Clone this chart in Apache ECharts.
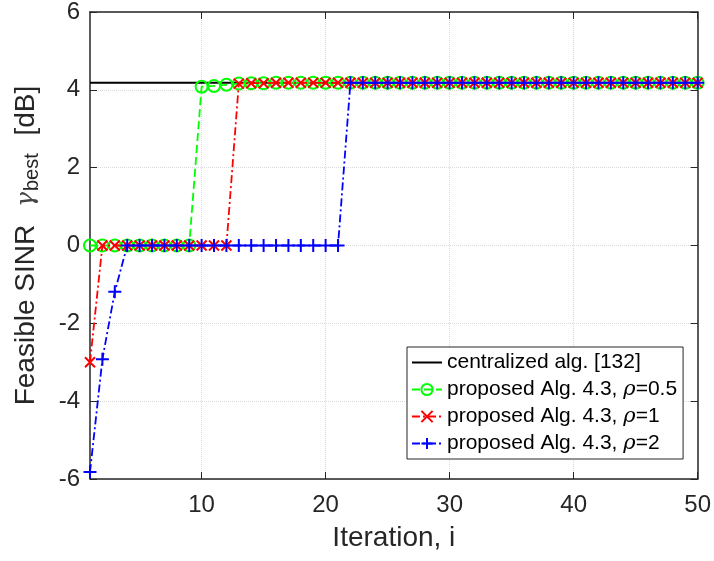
<!DOCTYPE html>
<html lang="en">
<head>
<meta charset="UTF-8">
<title>Feasible SINR</title>
<script src="https://cdn.jsdelivr.net/npm/echarts@6/dist/echarts.min.js"></script>
<style>
  html, body { margin: 0; padding: 0; width: 100%; height: 100%; background: #fff; }
  #chart { width: 714px; height: 561px; }
</style>
</head>
<body>
<div id="chart"></div>
<script>
// iteration index (x axis)
var iterations = [1, 2, 3, 4, 5, 6, 7, 8, 9, 10,
  11, 12, 13, 14, 15, 16, 17, 18, 19, 20,
  21, 22, 23, 24, 25, 26, 27, 28, 29, 30,
  31, 32, 33, 34, 35, 36, 37, 38, 39, 40,
  41, 42, 43, 44, 45, 46, 47, 48, 49, 50];

// centralized alg. [132]
var centralized = [4.18, 4.18, 4.18, 4.18, 4.18, 4.18, 4.18, 4.18, 4.18, 4.18,
  4.18, 4.18, 4.18, 4.18, 4.18, 4.18, 4.18, 4.18, 4.18, 4.18,
  4.18, 4.18, 4.18, 4.18, 4.18, 4.18, 4.18, 4.18, 4.18, 4.18,
  4.18, 4.18, 4.18, 4.18, 4.18, 4.18, 4.18, 4.18, 4.18, 4.18,
  4.18, 4.18, 4.18, 4.18, 4.18, 4.18, 4.18, 4.18, 4.18, 4.18];

// rho = 0.5
var rho05 = [0, 0, 0, 0, 0, 0, 0, 0, 0, 4.08,
  4.10, 4.13, 4.16, 4.17, 4.17, 4.18, 4.18, 4.18, 4.18, 4.18,
  4.18, 4.18, 4.18, 4.18, 4.18, 4.18, 4.18, 4.18, 4.18, 4.18,
  4.18, 4.18, 4.18, 4.18, 4.18, 4.18, 4.18, 4.18, 4.18, 4.18,
  4.18, 4.18, 4.18, 4.18, 4.18, 4.18, 4.18, 4.18, 4.18, 4.18];

// rho = 1
var rho1 = [-3.0, 0, 0, 0, 0, 0, 0, 0, 0, 0,
  0, 0, 4.16, 4.17, 4.17, 4.18, 4.18, 4.18, 4.18, 4.18,
  4.18, 4.18, 4.18, 4.18, 4.18, 4.18, 4.18, 4.18, 4.18, 4.18,
  4.18, 4.18, 4.18, 4.18, 4.18, 4.18, 4.18, 4.18, 4.18, 4.18,
  4.18, 4.18, 4.18, 4.18, 4.18, 4.18, 4.18, 4.18, 4.18, 4.18];

// rho = 2
var rho2 = [-5.82, -2.92, -1.19, 0, 0, 0, 0, 0, 0, 0,
  0, 0, 0, 0, 0, 0, 0, 0, 0, 0,
  0, 4.18, 4.18, 4.18, 4.18, 4.18, 4.18, 4.18, 4.18, 4.18,
  4.18, 4.18, 4.18, 4.18, 4.18, 4.18, 4.18, 4.18, 4.18, 4.18,
  4.18, 4.18, 4.18, 4.18, 4.18, 4.18, 4.18, 4.18, 4.18, 4.18];

var xTicks = [10, 20, 30, 40, 50];

var seriesNames = [
  'centralized alg. [132]',
  'proposed Alg. 4.3, rho=0.5',
  'proposed Alg. 4.3, rho=1',
  'proposed Alg. 4.3, rho=2'
];

var FONT = '"Liberation Sans", Arial, Helvetica, sans-serif';
var INK = '#262626';

function pairs(ys) {
  var out = [];
  for (var i = 0; i < iterations.length; i++) {
    out.push([iterations[i], ys[i]]);
  }
  return out;
}

var myChart = echarts.init(document.getElementById('chart'), null, { renderer: 'canvas' });

var xBase = {
  type: 'value',
  min: 1,
  max: 50,
  axisLine: { show: true, onZero: false, lineStyle: { color: INK, width: 1.5 } },
  axisTick: { show: true, inside: true, length: 7, customValues: xTicks, lineStyle: { color: INK } },
  splitLine: { show: false }
};
var yBase = {
  type: 'value',
  min: -6,
  max: 6,
  interval: 2,
  axisLine: { show: true, onZero: false, lineStyle: { color: INK, width: 1.5 } },
  axisTick: { show: true, inside: true, length: 7, lineStyle: { color: INK } },
  splitLine: { show: false }
};

var gridLine = { show: true, lineStyle: { color: '#d9d9d9', type: 'dotted', width: 1 } };

var options = {
  backgroundColor: '#fff',
  animation: false,
  textStyle: { fontFamily: FONT },
  grid: { left: 90, right: 16, top: 12, bottom: 82, containLabel: false },
  legend: {
    orient: 'vertical',
    left: 407,
    top: 347,
    backgroundColor: '#fff',
    borderColor: INK,
    borderWidth: 1,
    padding: [5, 6, 5, 4],
    itemGap: 6,
    itemWidth: 30,
    itemHeight: 14,
    data: [
      { name: seriesNames[0], itemStyle: { opacity: 0 } },
      { name: seriesNames[1] },
      { name: seriesNames[2] },
      { name: seriesNames[3] }
    ],
    formatter: function (name) {
      return name.replace('rho', '{r|ρ}');
    },
    textStyle: {
      fontFamily: FONT,
      fontSize: 21,
      color: '#000',
      rich: {
        r: { fontFamily: '"DejaVu Serif", serif', fontStyle: 'italic', fontSize: 21, color: '#000' }
      }
    }
  },
  xAxis: [
    echarts.util.merge({
      position: 'bottom',
      name: 'Iteration, i',
      nameLocation: 'middle',
      nameGap: 45,
      nameTextStyle: { fontFamily: FONT, fontSize: 28, color: INK },
      axisLabel: { show: true, customValues: xTicks, margin: 14, fontFamily: FONT, fontSize: 24, color: INK },
      splitLine: gridLine
    }, xBase, false),
    echarts.util.merge({ position: 'top', axisLabel: { show: false } }, xBase, false)
  ],
  yAxis: [
    echarts.util.merge({
      position: 'left',
      name: 'Feasible SINR {g|γ}{s|best} [dB]',
      nameLocation: 'middle',
      nameGap: 48,
      nameTextStyle: {
        fontFamily: FONT,
        fontSize: 28,
        color: INK,
        rich: {
          g: { fontFamily: '"DejaVu Serif", serif', fontStyle: 'italic', fontSize: 25, color: '#444', padding: [0, 1, 0, 10] },
          s: { fontFamily: FONT, fontSize: 20, color: INK, padding: [12, 10, 0, 0] }
        }
      },
      axisLabel: { show: true, margin: 10, fontFamily: FONT, fontSize: 24, color: INK },
      splitLine: gridLine
    }, yBase, false),
    echarts.util.merge({ position: 'right', axisLabel: { show: false } }, yBase, false)
  ],
  series: [
    {
      name: seriesNames[0],
      type: 'line',
      data: pairs(centralized),
      showSymbol: false,
      symbol: 'none',
      color: '#000',
      lineStyle: { color: '#000', width: 2, type: 'solid' },
      z: 2
    },
    {
      name: seriesNames[1],
      type: 'line',
      data: pairs(rho05),
      symbol: 'path://M10,5A5,5,0,1,1,0,5A5,5,0,1,1,10,5Z',
      symbolSize: 12,
      color: '#00ff00',
      itemStyle: { color: 'none', borderColor: '#00ff00', borderWidth: 2 },
      lineStyle: { color: '#00ff00', width: 1.8, type: [8, 4] },
      z: 3
    },
    {
      name: seriesNames[2],
      type: 'line',
      data: pairs(rho1),
      symbol: 'path://M0,0L10,10M0,10L10,0',
      symbolSize: 10,
      color: '#ff0000',
      itemStyle: { color: 'none', borderColor: '#ff0000', borderWidth: 2 },
      lineStyle: { color: '#ff0000', width: 1.8, type: [8, 3, 2, 3] },
      z: 4
    },
    {
      name: seriesNames[3],
      type: 'line',
      data: pairs(rho2),
      symbol: 'path://M5,0L5,10M0,5L10,5',
      symbolSize: 13,
      color: '#0000ff',
      itemStyle: { color: 'none', borderColor: '#0000ff', borderWidth: 2 },
      lineStyle: { color: '#0000ff', width: 1.8, type: [8, 3, 2, 3] },
      z: 5
    }
  ]
};

myChart.setOption(options);
</script>
</body>
</html>
